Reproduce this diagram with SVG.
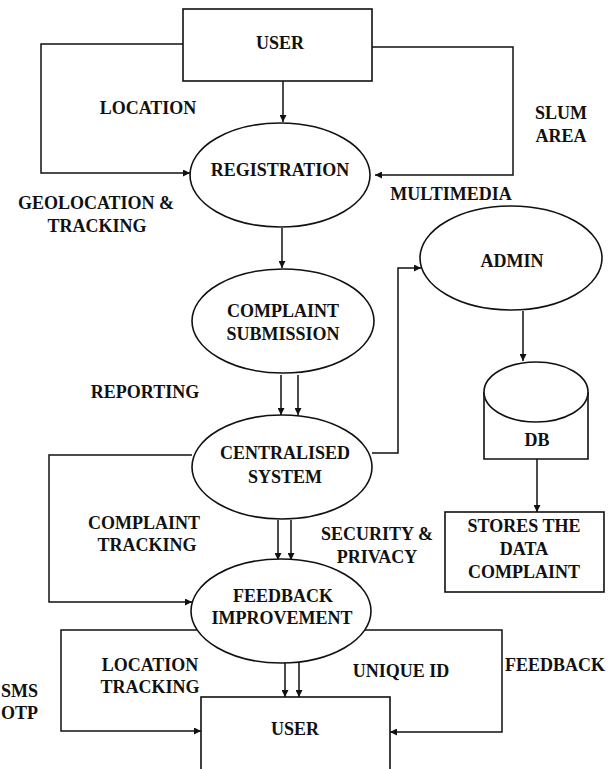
<svg xmlns="http://www.w3.org/2000/svg" width="610" height="769" viewBox="0 0 610 769">
<defs>
<marker id="ah" viewBox="0 0 10 10" refX="10" refY="5" markerWidth="7" markerHeight="7" orient="auto" markerUnits="userSpaceOnUse">
<path d="M0,0 L10,5 L0,10 z" fill="#111"/>
</marker>
<style>
.n{fill:#fff;stroke:#111;stroke-width:1.6}
.c{fill:none;stroke:#111;stroke-width:1.5;marker-end:url(#ah)}
text{font-family:"Liberation Serif","Times New Roman",serif;font-weight:bold;font-size:18px;fill:#111;text-anchor:middle}
</style>
</defs>
<rect width="610" height="769" fill="#fff"/>
<g id="connectors">
<path class="c" d="M283,81 L283,122"/>
<path class="c" d="M183,44 L41,44 L41,173 L190,173"/>
<path class="c" d="M372,47 L513,47 L513,175 L375,175"/>
<path class="c" d="M282,228 L282,268"/>
<path class="c" d="M281,375 L281,415"/>
<path class="c" d="M298,375 L298,415"/>
<path class="c" d="M372,453 L398,453 L398,268 L421,268"/>
<path class="c" d="M523,311 L523,361"/>
<path class="c" d="M537,459 L537,512"/>
<path class="c" d="M278,520 L278,560"/>
<path class="c" d="M291,520 L291,560"/>
<path class="c" d="M192,455 L49,455 L49,602 L192,602"/>
<path class="c" d="M285,662 L285,697"/>
<path class="c" d="M299,662 L299,697"/>
<path class="c" d="M203,630 L61,630 L61,731 L201,731"/>
<path class="c" d="M360,630 L502,630 L502,732 L390,732"/>
</g>
<g id="user-top"><rect class="n" x="183" y="9" width="189" height="72"/><text x="280" y="49">USER</text></g>
<g id="registration"><ellipse class="n" cx="280" cy="175" rx="90" ry="52"/><text x="280" y="176">REGISTRATION</text></g>
<g id="complaint-submission"><ellipse class="n" cx="283" cy="321" rx="91" ry="52"/><text x="283" y="317">COMPLAINT</text><text x="283" y="340">SUBMISSION</text></g>
<g id="centralised"><ellipse class="n" cx="282" cy="467" rx="90" ry="52"/><text x="285" y="459">CENTRALISED</text><text x="285" y="483">SYSTEM</text></g>
<g id="feedback-improvement"><ellipse class="n" cx="281" cy="611" rx="90" ry="52"/><text x="283" y="602">FEEDBACK</text><text x="282" y="624">IMPROVEMENT</text></g>
<g id="admin"><ellipse class="n" cx="511" cy="258" rx="91" ry="52"/><text x="512" y="267">ADMIN</text></g>
<g id="db"><path class="n" d="M484,392 L484,459 L588,459 L588,392"/><ellipse class="n" cx="536" cy="392" rx="52" ry="30"/><text x="537" y="446">DB</text></g>
<g id="stores"><rect class="n" x="445" y="512" width="159" height="80"/><text x="524" y="532">STORES THE</text><text x="524" y="555">DATA</text><text x="524" y="578">COMPLAINT</text></g>
<g id="user-bottom"><rect class="n" x="201" y="697" width="189" height="75"/><text x="295" y="735">USER</text></g>
<g id="labels">
<text x="148" y="114">LOCATION</text>
<text x="561" y="119">SLUM</text>
<text x="561" y="142">AREA</text>
<text x="96" y="209">GEOLOCATION &amp;</text>
<text x="97" y="232">TRACKING</text>
<text x="451" y="200">MULTIMEDIA</text>
<text x="145" y="398">REPORTING</text>
<text x="144" y="529">COMPLAINT</text>
<text x="147" y="551">TRACKING</text>
<text x="377" y="540">SECURITY &amp;</text>
<text x="377" y="563">PRIVACY</text>
<text x="150" y="671">LOCATION</text>
<text x="150" y="693">TRACKING</text>
<text x="401" y="677">UNIQUE ID</text>
<text x="555" y="671">FEEDBACK</text>
<text x="1" y="697" style="text-anchor:start">SMS</text>
<text x="1" y="719" style="text-anchor:start">OTP</text>
</g>
</svg>
